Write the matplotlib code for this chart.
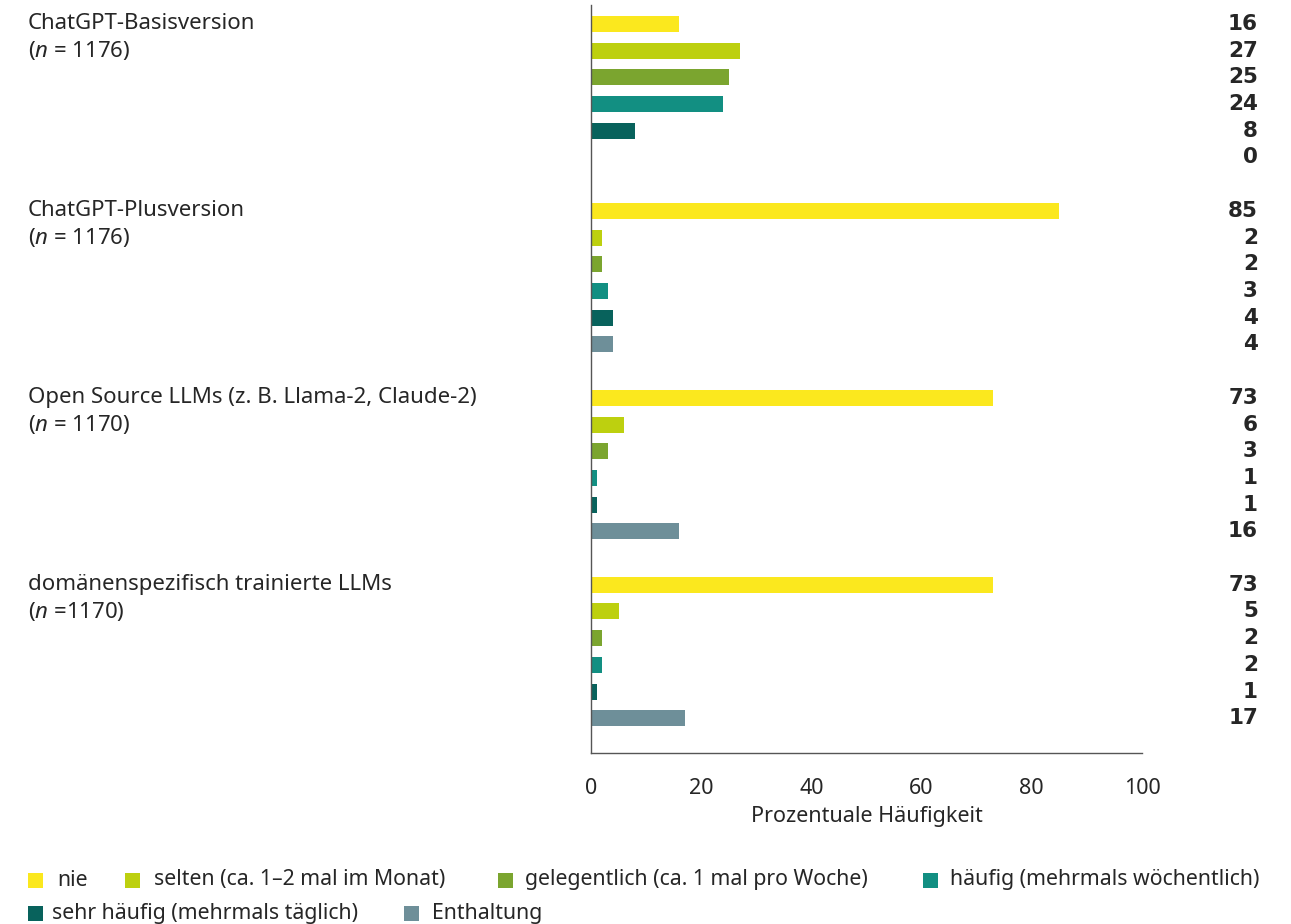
import matplotlib
matplotlib.use("Agg")
import matplotlib.pyplot as plt
from matplotlib.patches import Rectangle
import matplotlib.transforms as mtransforms

plt.rcParams['font.family'] = ['Noto Sans', 'DejaVu Sans']
plt.rcParams['mathtext.fontset'] = 'custom'
plt.rcParams['mathtext.rm'] = 'Noto Sans'
plt.rcParams['mathtext.it'] = 'Noto Sans:italic'

# ---- data ----
groups = ["ChatGPT-Basisversion", "ChatGPT-Plusversion",
          "Open Source LLMs (z. B. Llama-2, Claude-2)",
          "domänenspezifisch trainierte LLMs"]
group_n = ["($\\it{n}$ = 1176)", "($\\it{n}$ = 1176)", "($\\it{n}$ = 1170)", "($\\it{n}$ =1170)"]
responses = ["nie", "selten (ca. 1–2 mal im Monat)", "gelegentlich (ca. 1 mal pro Woche)",
             "häufig (mehrmals wöchentlich)", "sehr häufig (mehrmals täglich)", "Enthaltung"]
values = {
    "ChatGPT-Basisversion": [16, 27, 25, 24, 8, 0],
    "ChatGPT-Plusversion": [85, 2, 2, 3, 4, 4],
    "Open Source LLMs (z. B. Llama-2, Claude-2)": [73, 6, 3, 1, 1, 16],
    "domänenspezifisch trainierte LLMs": [73, 5, 2, 2, 1, 17],
}
colors = ["#FBE81E", "#BDD00F", "#7BA52F", "#128F82", "#08625C", "#6E8F99"]
xticks = [0, 20, 40, 60, 80, 100]

W, H = 1291, 924
fig = plt.figure(figsize=(W / 100, H / 100), dpi=100)
ax = fig.add_axes([591 / W, 1 - 753 / H, (1142 - 591) / W, (753 - 5) / H])

txt_color = "#262626"
label_tr = mtransforms.blended_transform_factory(fig.transFigure, ax.transData)
for g, grp in enumerate(groups):
    for i, v in enumerate(values[grp]):
        pos = g * 7 + i
        ax.barh(pos, v, height=0.6, color=colors[i], linewidth=0)
        ax.text(1258 / W, pos, f"{v}", transform=label_tr, ha="right", va="center",
                fontsize=15.5, fontweight="bold", family=["DejaVu Sans"], color=txt_color)
    ax.text(28 / W, g * 7, grp, transform=label_tr, ha="left", va="center",
            fontsize=16, color=txt_color)
    ax.text(28 / W, g * 7 + 1, group_n[g], transform=label_tr, ha="left", va="center",
            fontsize=16, color=txt_color)

ax.set_xlim(0, 100)
ax.set_ylim(27.3, -0.71)
ax.set_xticks(xticks)
ax.set_xticklabels([str(t) for t in xticks], fontsize=15.5, color=txt_color)
ax.tick_params(axis="x", length=0, pad=18)
ax.set_yticks([])
ax.set_xlabel("Prozentuale Häufigkeit", fontsize=15.5, color=txt_color, labelpad=5)
for s in ["top", "right"]:
    ax.spines[s].set_visible(False)
for s in ["left", "bottom"]:
    ax.spines[s].set_color("#555555")
    ax.spines[s].set_linewidth(1.0)

# legend (manual, two rows)
leg_pos = [(28, 57, 880), (125, 154, 880), (498, 525, 880), (923, 950, 880),
           (28, 52, 913), (404, 432, 913)]
for (sx, tx, yc), lab, c in zip(leg_pos, responses, colors):
    fig.add_artist(Rectangle((sx / W, 1 - (yc + 7.5) / H), 15 / W, 15 / H,
                             transform=fig.transFigure, color=c, linewidth=0))
    fig.text(tx / W, 1 - yc / H, lab, ha="left", va="center", fontsize=15.3, color=txt_color)

fig.savefig("out.png", dpi=100, facecolor="white")
